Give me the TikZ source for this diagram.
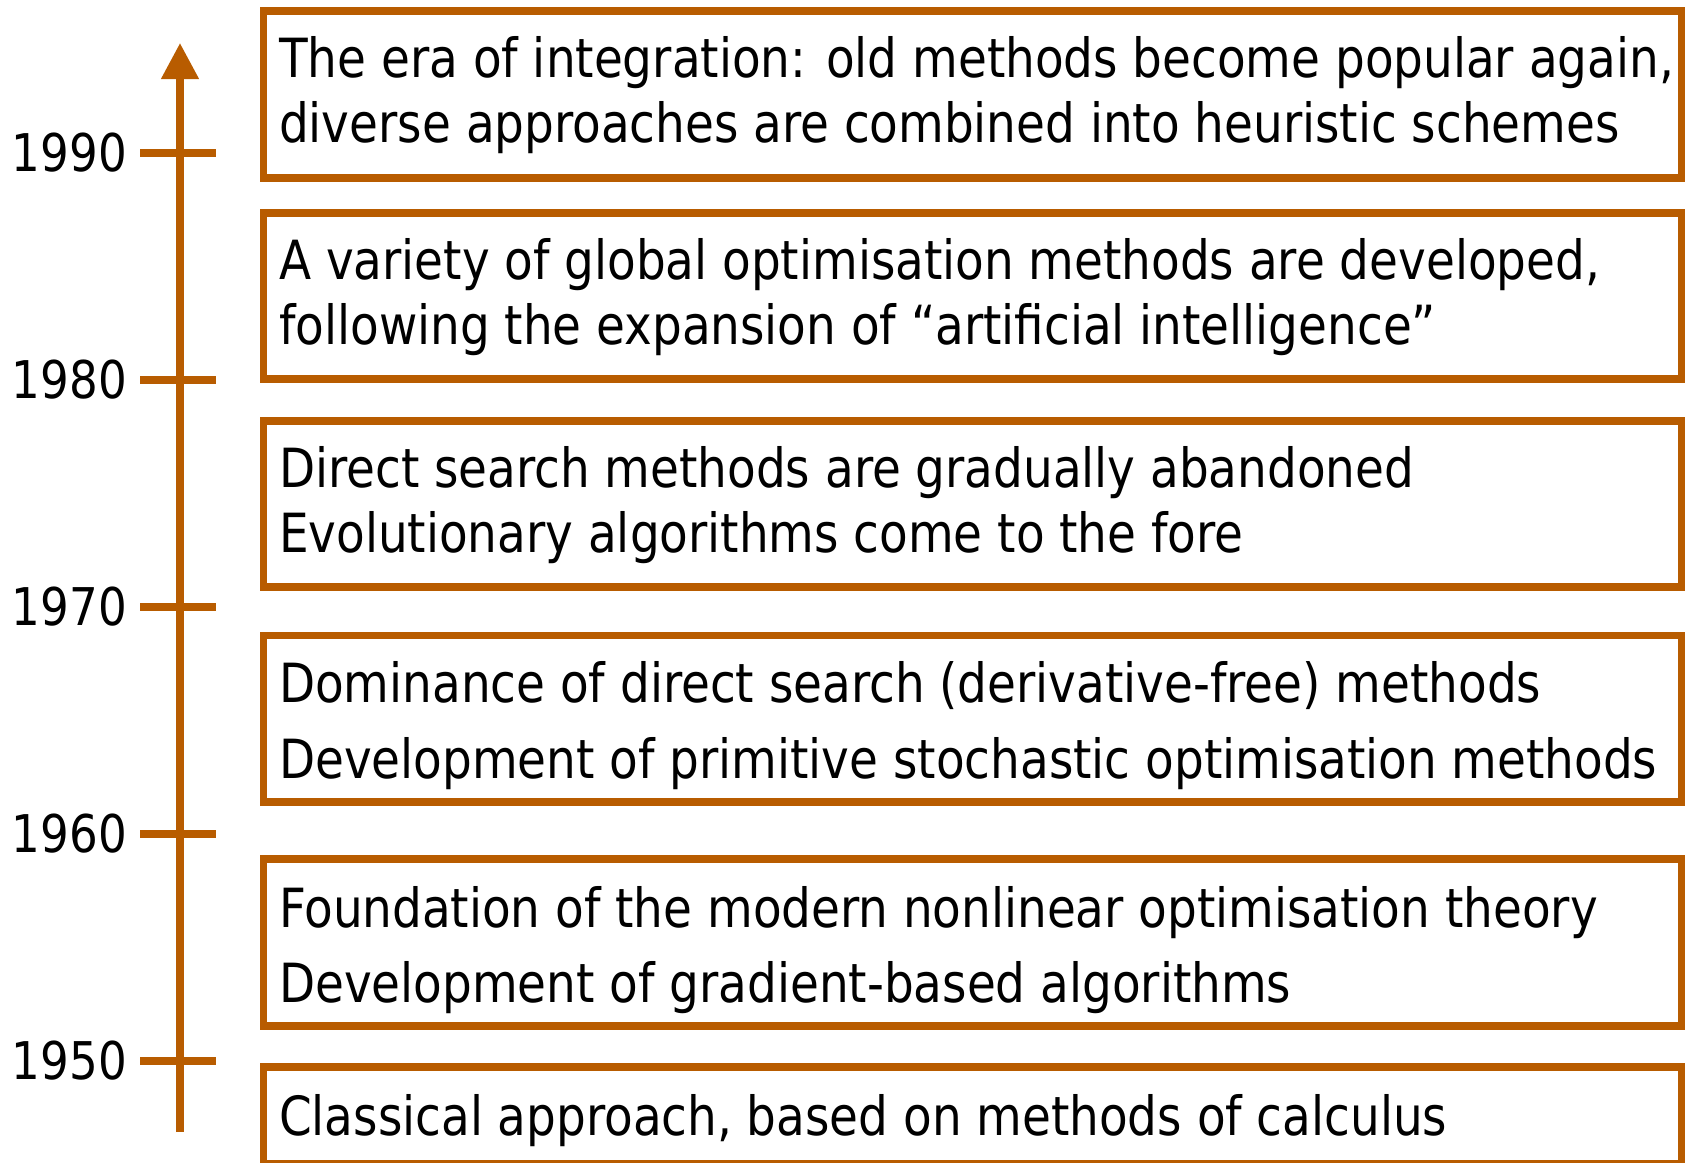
\documentclass[tikz,border=0pt]{standalone}
\usepackage{fontspec}
\setmainfont[FakeStretch=0.965]{DejaVu Sans Condensed}
\usepackage{xcolor}
\usetikzlibrary{arrows.meta,positioning}
\definecolor{timeline}{RGB}{184,92,0}

\begin{document}
\begin{tikzpicture}[
  x=1pt, y=-1pt,
  box/.style={draw=timeline, line width=7.5pt, minimum width=1418pt,
              inner sep=0pt, outer sep=0pt, anchor=north west},
  txt/.style={align=left, inner sep=0pt, anchor=base west,
              font=\fontsize{54}{65}\selectfont},
  year/.style={anchor=east, inner sep=0pt, font=\fontsize{52}{60}\selectfont},
  axis/.style={draw=timeline, line width=7.5pt,
               -{Triangle[length=36pt, width=36pt]}},
  tick/.style={draw=timeline, line width=7.5pt}
]
\useasboundingbox (0,0) rectangle (1686,1162);

% time axis
\coordinate (start) at (180,1132);
\coordinate (end) at (180,43);
\draw[axis] (start) -- (end);
\foreach \yr [count=\i from 0] in {1950,1960,1970,1980,1990} {
  \coordinate (t\yr) at (180,1061-227*\i);
  \draw[tick] ([xshift=-40pt]t\yr) -- ([xshift=36pt]t\yr);
  \node[year] (y\yr) at ([xshift=-53pt]t\yr) {\yr};
}

% periods
\node[box, minimum height=167pt] (b1) at (263.5,11) {};
\node[box, minimum height=166pt] (b2) at (263.5,213) {};
\node[box, minimum height=166pt] (b3) at (263.5,421) {};
\node[box, minimum height=166.5pt] (b4) at (263.5,635.5) {};
\node[box, minimum height=167pt] (b5) at (263.5,859) {};
\node[box, minimum height=97pt] (b6) at (263.5,1067) {};

% text sits on the baseline of its last line
\node[txt] (t1) at (279,142) {The era of integration: old methods become popular again,\\
  diverse approaches are combined into heuristic schemes};
\node[txt] (t2) at (279,344) {A variety of global optimisation methods are developed,\\
  following the expansion of “artificial intelligence”};
\node[txt] (t3) at (279,552) {Direct search methods are gradually abandoned\\
  Evolutionary algorithms come to the fore};
\node[txt] (t4) at (279,778) {Dominance of direct search (derivative-free) methods\\[11pt]
  Development of primitive stochastic optimisation methods};
\node[txt] (t5) at (279,1002) {Foundation of the modern nonlinear optimisation theory\\[10pt]
  Development of gradient-based algorithms};
\node[txt] (t6) at (279,1135) {Classical approach, based on methods of calculus};
\end{tikzpicture}
\end{document}
